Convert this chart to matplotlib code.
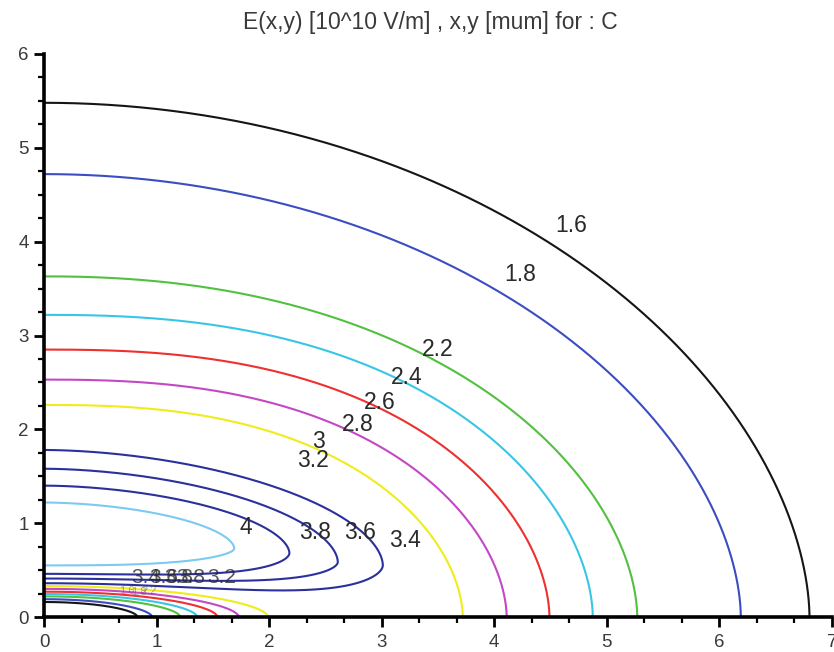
import numpy as np
import matplotlib.pyplot as plt
from matplotlib.ticker import MultipleLocator

plt.rcParams["font.family"] = ["Liberation Sans", "DejaVu Sans"]

# contours that leave the y axis and come down onto the x axis
open_levels = [1.6, 1.8, 2.2, 2.4, 2.6, 2.8, 3.0]
open_colors = ["#151515", "#3b4dc2", "#52c040", "#38c6e6", "#ee3030", "#c448c6", "#f0ec1c"]
# outer branch: height on the y axis, crossing on the x axis, squareness
far_top = [5.48, 4.72, 3.63, 3.22, 2.85, 2.53, 2.26]
far_end = [6.80, 6.19, 5.27, 4.875, 4.49, 4.11, 3.72]
far_shape = [2.0, 2.0, 2.2, 2.4, 2.5, 2.5, 2.5]
# inner branch hugging the x axis
near_top = [0.16, 0.19, 0.22, 0.245, 0.27, 0.30, 0.33]
near_end = [0.83, 0.96, 1.21, 1.36, 1.54, 1.73, 1.99]

# closed contours around the ridge just above the x axis
loop_levels = [3.4, 3.6, 3.8, 4.0]
loop_colors = ["#2b309c", "#2b309c", "#2b309c", "#7ccaf0"]
loop_top = [1.78, 1.58, 1.40, 1.22]
loop_bottom = [0.36, 0.41, 0.46, 0.55]
loop_tip_x = [3.01, 2.61, 2.18, 1.69]
loop_tip_y = [0.55, 0.585, 0.68, 0.73]
loop_sag = [0.30, 0.15, 0.10, 0.0]

# contour labels
label_levels = [1.6, 1.8, 2.2, 2.4, 2.6, 2.8, 3.0, 3.2, 3.4, 3.6, 3.8, 4.0]
label_x = [4.68, 4.23, 3.50, 3.22, 2.98, 2.79, 2.44, 2.39, 3.21, 2.81, 2.41, 1.79]
label_y = [4.17, 3.645, 2.85, 2.55, 2.29, 2.05, 1.87, 1.67, 0.82, 0.90, 0.90, 0.95]
# labels piled up on the ridge
pile_levels = [3.4, 3.6, 3.8, 3.8, 3.2]
pile_x = [0.90, 1.06, 1.20, 1.30, 1.58]
pile_y = [0.42, 0.42, 0.42, 0.42, 0.42]
small_levels = [1.6, 1.8, 2.2]
small_x = [0.74, 0.84, 0.93]
small_y = [0.28, 0.27, 0.28]


def branch(x, top, end, p, q=1.8):
    u = np.clip(x / end, 0, 1)
    return top * (1 - u ** p) ** (1 / q)


t = np.linspace(0, np.pi / 2, 600)

fig = plt.figure(figsize=(8.34, 6.52), dpi=100)
ax = fig.add_axes([44 / 834, 35 / 652, 788 / 834, 563 / 652])

for lev, col, a, b, p, b2, a2 in zip(open_levels, open_colors, far_end, far_top,
                                     far_shape, near_top, near_end):
    x = a * np.sin(t)
    ax.plot(x, branch(x, b, a, p), color=col, lw=1.5)
    x = a2 * np.sin(t)
    ax.plot(x, branch(x, b2, a2, 2.0), color=col, lw=1.5)

for lev, col, top, bot, xr, yr, sag in zip(loop_levels, loop_colors, loop_top, loop_bottom,
                                           loop_tip_x, loop_tip_y, loop_sag):
    x = xr * np.sin(t)
    up = yr + branch(x, top - yr, xr, 1.8)
    f = branch(x, 1.0, xr, 3.0)
    lo = yr - (yr - bot) * f - sag * (x / xr) ** 2 * f
    ax.plot(np.r_[x, x[::-1]], np.r_[up, lo[::-1]], color=col, lw=1.5)

for lev, x, y in zip(label_levels, label_x, label_y):
    ax.text(x, y, "%g" % lev, fontsize=16.5, color="#2a2a2a", ha="center", va="center")
for lev, x, y in zip(pile_levels, pile_x, pile_y):
    ax.text(x, y, "%g" % lev, fontsize=15, color="#2a2a2a", ha="center", va="center", alpha=0.8)
for lev, x, y in zip(small_levels, small_x, small_y):
    ax.text(x, y, "%g" % lev, fontsize=8, color="#555555", ha="center", va="center", alpha=0.5)

ax.set_xlim(0, 7)
ax.set_ylim(0, 6)
for side in ["top", "right"]:
    ax.spines[side].set_visible(False)
for side in ["left", "bottom"]:
    ax.spines[side].set_linewidth(2.6)
ax.xaxis.set_major_locator(MultipleLocator(1))
ax.xaxis.set_minor_locator(MultipleLocator(1 / 3))
ax.yaxis.set_major_locator(MultipleLocator(1))
ax.yaxis.set_minor_locator(MultipleLocator(0.25))
ax.tick_params(which="major", direction="out", length=7, width=2, labelsize=13.5,
               labelcolor="#3a3a3a", pad=4)
ax.tick_params(which="minor", direction="out", length=4.5, width=1.6)
ax.tick_params(axis="x", pad=5)

fig.text(430 / 834, 1 - 22 / 652, "E(x,y) [10^10 V/m] , x,y [mum] for : C",
         ha="center", va="center", fontsize=16.5, color="#3a3a3a")

fig.savefig("out.png", dpi=100)
